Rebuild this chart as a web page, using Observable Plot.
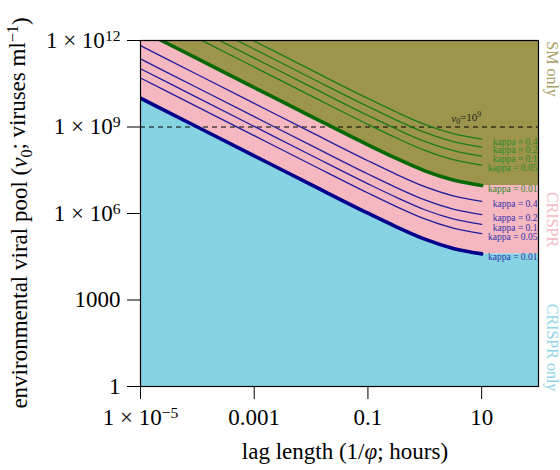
<!DOCTYPE html>
<html><head><meta charset="utf-8">
<script src="https://cdn.jsdelivr.net/npm/d3@7"></script>
<script src="https://cdn.jsdelivr.net/npm/@observablehq/plot@0.6"></script>
<style>body{margin:0;background:#fff}</style>
</head><body><div id="chart"></div>
<script>
// lag length (hours) sample points
const lagHours = [1e-5, 1e-4, 1e-3, 1e-2, 1e-1, 0.316, 1, 3.16, 10];
// log10 of v0 boundaries
const crisprK001 = [10.00, 9.00, 8.00, 7.00, 6.01, 5.54, 5.11, 4.79, 4.60];
const crisprK005 = [10.70, 9.70, 8.70, 7.70, 6.71, 6.24, 5.81, 5.49, 5.30];
const crisprK01  = [11.02, 10.02, 9.02, 8.02, 7.03, 6.56, 6.13, 5.81, 5.62];
const crisprK02  = [11.36, 10.36, 9.36, 8.36, 7.37, 6.90, 6.47, 6.15, 5.96];
const crisprK04  = [11.82, 10.82, 9.82, 8.82, 7.83, 7.36, 6.93, 6.61, 6.42];
const smK001 = [12.37, 11.37, 10.37, 9.37, 8.38, 7.91, 7.48, 7.16, 6.97];
const smK005 = [13.08, 12.08, 11.08, 10.08, 9.09, 8.62, 8.19, 7.87, 7.68];
const smK01  = [13.39, 12.39, 11.39, 10.39, 9.40, 8.93, 8.50, 8.18, 7.99];
const smK02  = [13.70, 12.70, 11.70, 10.70, 9.71, 9.24, 8.81, 8.49, 8.30];
const smK04  = [13.98, 12.98, 11.98, 10.98, 9.99, 9.52, 9.09, 8.77, 8.58];
const kappaLabels = ["kappa = 0.01", "kappa = 0.05", "kappa = 0.1", "kappa = 0.2", "kappa = 0.4"];
const lagMax = 100;
const vMin = 1, vMax = 1e12, vRef = 1e9;
const xTicks = [1e-5, 1e-3, 0.1, 10];
const yTicks = [1, 1e3, 1e6, 1e9, 1e12];
const regionNames = ["SM only", "CRISPR", "CRISPR only"];
const regionLogV = [11.01, 5.79, 1.35];

const cyan = "#86d3e3", pink = "#f5b7c0", olive = "#9c954b";
const blueThin = "#1e1e9a", blueThick = "#00008c", greenThin = "#1c7a1c", greenThick = "#066806";
const blueText = "#3434aa", greenText = "#2e8a2e";
const regionColors = ["#a9a267", "#f4b8c1", "#8fd5e6"];

const crisprSeries = [crisprK001, crisprK005, crisprK01, crisprK02, crisprK04];
const smSeries = [smK001, smK005, smK01, smK02, smK04];
const toRows = arr => arr.map((lv, i) => ({lag: lagHours[i], v: 10 ** lv}));

const fillRows = lagHours.concat([lagMax]).map((lag, i) => {
  const j = Math.min(i, lagHours.length - 1);
  return {lag, blue: 10 ** crisprK001[j], green: 10 ** smK001[j]};
});

const labelRows = (series, names) => series.map((s, k) => ({v: 10 ** s[s.length - 1], label: names[k]}));

const fmtTick = d => {
  const e = Math.round(Math.log10(d));
  if (d === 1) return "1";
  if (d === 1000) return "1000";
  if (d === 0.001) return "0.001";
  if (d === 0.1) return "0.1";
  if (d === 10) return "10";
  return "1 × 10^" + (e < 0 ? "−" + (-e) : e);
};

const curve = "monotone-x";
const marks = [
  Plot.areaY(fillRows, {x: "lag", y1: () => vMin, y2: "blue", fill: cyan, curve, clip: true}),
  Plot.areaY(fillRows, {x: "lag", y1: "blue", y2: "green", fill: pink, curve, clip: true}),
  Plot.areaY(fillRows, {x: "lag", y1: "green", y2: () => vMax, fill: olive, curve, clip: true}),
  Plot.ruleY([vRef], {stroke: "black", strokeWidth: 1.2, strokeDasharray: "5,4"}),
];
crisprSeries.forEach((s, k) => marks.push(Plot.line(toRows(s), {x: "lag", y: "v", curve, clip: true,
  stroke: k === 0 ? blueThick : blueThin, strokeWidth: k === 0 ? 3.6 : 1.3})));
smSeries.forEach((s, k) => marks.push(Plot.line(toRows(s), {x: "lag", y: "v", curve, clip: true,
  stroke: k === 0 ? greenThick : greenThin, strokeWidth: k === 0 ? 3.6 : 1.3})));
marks.push(Plot.text(labelRows(crisprSeries, kappaLabels), {y: "v", text: "label", frameAnchor: "right",
  textAnchor: "end", dx: -1, dy: 3, fill: blueText, fontSize: 9.5}));
marks.push(Plot.text(labelRows(smSeries, kappaLabels), {y: "v", text: "label", frameAnchor: "right",
  textAnchor: "end", dx: -1, dy: 3, fill: greenText, fontSize: 9.5}));
regionNames.forEach((name, k) => marks.push(Plot.text([{v: 10 ** regionLogV[k], t: name}], {
  y: "v", text: "t", frameAnchor: "right", textAnchor: "middle", dx: 14, rotate: 90, fill: regionColors[k], fontSize: 16})));
marks.push(Plot.frame({stroke: "black", strokeWidth: 1.2}));
marks.push(Plot.axisX(xTicks, {tickSize: 13, tickPadding: 9, fontSize: 23, tickFormat: fmtTick, label: null, stroke: "black"}));
marks.push(Plot.axisY(yTicks, {tickSize: 13, tickPadding: 7, fontSize: 23, tickFormat: fmtTick, label: null, stroke: "black"}));

const chart = Plot.plot({
  width: 560, height: 470,
  marginLeft: 140, marginRight: 22, marginTop: 40, marginBottom: 84,
  style: {fontFamily: '"Liberation Serif", "Times New Roman", serif', background: "white", color: "black", overflow: "visible"},
  x: {type: "log", domain: [1e-5, lagMax]},
  y: {type: "log", domain: [vMin, vMax]},
  marks
});
document.getElementById("chart").appendChild(chart);

const svg = d3.select(chart);
// superscripts in tick labels
svg.selectAll('g[aria-label$="tick label"] text').each(function() {
  const t = this.textContent;
  if (t.includes("^")) {
    const [base, exp] = t.split("^");
    const sel = d3.select(this);
    sel.text(null);
    sel.append("tspan").text(base);
    sel.append("tspan").attr("dy", "-0.45em").attr("font-size", "0.68em").text(exp);
  }
});
const xs = chart.scale("x"), ys = chart.scale("y");
const font = '"Liberation Serif", "Times New Roman", serif';
// v0 = 10^9 label
const vl = svg.append("text").attr("x", xs.apply(10)).attr("y", ys.apply(vRef) - 5)
  .attr("text-anchor", "end").attr("font-size", 11).attr("font-family", font).attr("fill", "#222");
vl.append("tspan").attr("font-style", "italic").text("v");
vl.append("tspan").attr("dy", "0.3em").attr("font-size", "0.7em").text("0");
vl.append("tspan").attr("dy", "-0.3em").text("=10");
vl.append("tspan").attr("dy", "-0.4em").attr("font-size", "0.7em").text("9");
// x label
const xMid = (xs.apply(1e-5) + xs.apply(lagMax)) / 2;
const xl = svg.append("text").attr("x", xMid + 6).attr("y", 459).attr("text-anchor", "middle")
  .attr("font-size", 23).attr("font-family", font).attr("fill", "black");
xl.append("tspan").text("lag length (1/");
xl.append("tspan").attr("font-style", "italic").text("φ");
xl.append("tspan").text("; hours)");
// y label
const yMid = (ys.apply(vMin) + ys.apply(vMax)) / 2;
const yl = svg.append("text").attr("transform", `translate(27,${yMid}) rotate(-90)`).attr("text-anchor", "middle")
  .attr("font-size", 23).attr("font-family", font).attr("fill", "black");
yl.append("tspan").text("environmental viral pool (");
yl.append("tspan").attr("font-style", "italic").text("v");
yl.append("tspan").attr("dy", "0.3em").attr("font-size", "0.7em").text("0");
yl.append("tspan").attr("dy", "-0.3em").text("; viruses ml");
yl.append("tspan").attr("dy", "-0.45em").attr("font-size", "0.7em").text("−1");
yl.append("tspan").attr("dy", "0.45em").text(")");
</script></body></html>
